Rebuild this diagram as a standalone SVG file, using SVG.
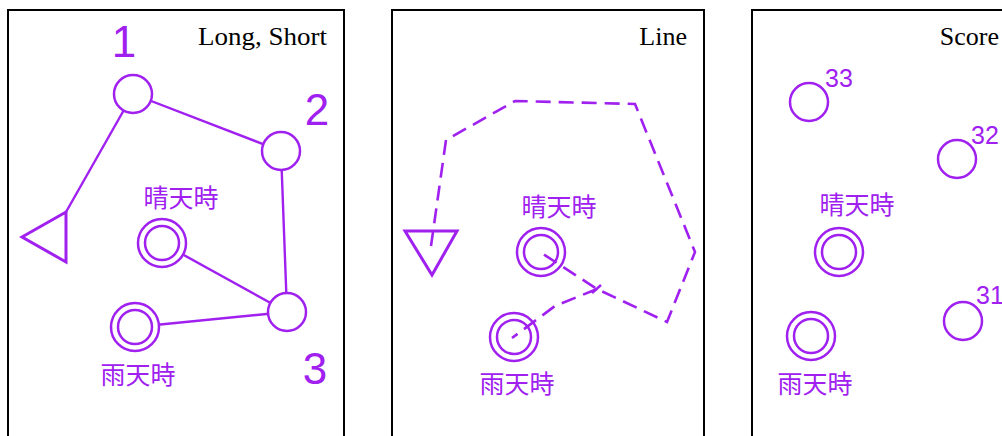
<svg xmlns="http://www.w3.org/2000/svg" width="1002" height="436" viewBox="0 0 1002 436">
<style>
.panel{fill:#fff;stroke:#000;stroke-width:2}
.title{font-family:"Liberation Serif",serif;font-size:26px;fill:#000;text-anchor:end}
.node{fill:#fff;stroke:#A020F0;stroke-width:2.5}
.ring{fill:none;stroke:#A020F0;stroke-width:2.5}
.tri{fill:none;stroke:#A020F0;stroke-width:3;stroke-linejoin:miter}
.conn{fill:none;stroke:#A020F0;stroke-width:2.4}
.dash{fill:none;stroke:#A020F0;stroke-width:2.6;stroke-dasharray:15 8}
.num{font-family:"Liberation Sans",Arial,sans-serif;font-size:44px;fill:#A020F0;text-anchor:middle}
.score{font-family:"Liberation Sans",Arial,sans-serif;font-size:25px;fill:#A020F0}
.jp{font-family:"Noto Sans CJK JP","Noto Sans CJK SC",sans-serif;font-size:25px;fill:#A020F0;text-anchor:middle}
</style>
<rect width="1002" height="436" fill="#fff"/>
<!-- panels -->
<rect class="panel" x="8" y="10" width="336" height="440"/>
<rect class="panel" x="392" y="10" width="312" height="440"/>
<rect class="panel" x="752" y="10" width="300" height="440"/>
<text class="title" x="327" y="45" textLength="129" lengthAdjust="spacingAndGlyphs">Long, Short</text>
<text class="title" x="687" y="45">Line</text>
<text class="title" x="999" y="45">Score</text>

<!-- connectors -->
<g id="connectors">
  <line class="conn" x1="133" y1="94" x2="66" y2="212"/>
  <line class="conn" x1="133" y1="94" x2="281" y2="151"/>
  <line class="conn" x1="281" y1="151" x2="287" y2="312"/>
  <line class="conn" x1="162" y1="243" x2="287" y2="312"/>
  <line class="conn" x1="135" y1="327" x2="287" y2="312"/>
  <polyline class="dash" points="431,246 446,140 515,101 635,104 695,252 667,322 597,289 540,252"/>
  <polyline class="dash" points="597,289 555,306 512,338"/>
  <line class="conn" x1="592" y1="293" x2="601" y2="285"/>
</g>

<!-- panel 1 nodes -->
<g id="p1-start"><polygon class="tri" points="22,237 66,212 66,262"/></g>
<g id="p1-node1"><circle class="node" cx="133" cy="94" r="19"/><text class="num" x="124" y="57">1</text></g>
<g id="p1-node2"><circle class="node" cx="281" cy="151" r="19"/><text class="num" x="317" y="125">2</text></g>
<g id="p1-node3"><circle class="node" cx="287" cy="312" r="19"/><text class="num" x="315" y="384">3</text></g>
<g id="p1-sunny"><circle class="node" cx="162" cy="243" r="24"/><circle class="ring" cx="162" cy="243" r="17"/><text class="jp" x="181" y="207">晴天時</text></g>
<g id="p1-rainy"><circle class="node" cx="135" cy="327" r="24"/><circle class="ring" cx="135" cy="327" r="17"/><text class="jp" x="138" y="384">雨天時</text></g>

<!-- panel 2 nodes -->
<g id="p2-start"><polygon class="tri" points="405,231 457,231 432,275"/></g>
<g id="p2-sunny"><circle class="ring" cx="541" cy="252" r="24"/><circle class="ring" cx="541" cy="252" r="17"/><text class="jp" x="559" y="216">晴天時</text></g>
<g id="p2-rainy"><circle class="ring" cx="514" cy="337" r="24"/><circle class="ring" cx="514" cy="337" r="17"/><text class="jp" x="517" y="393">雨天時</text></g>

<!-- panel 3 nodes -->
<g id="p3-n33"><circle class="node" cx="809" cy="102" r="19"/><text class="score" x="825" y="87">33</text></g>
<g id="p3-n32"><circle class="node" cx="957" cy="159" r="19"/><text class="score" x="971" y="144">32</text></g>
<g id="p3-n31"><circle class="node" cx="963" cy="321" r="19"/><text class="score" x="976" y="304">31</text></g>
<g id="p3-sunny"><circle class="node" cx="839" cy="252" r="24"/><circle class="ring" cx="839" cy="252" r="17"/><text class="jp" x="857" y="214">晴天時</text></g>
<g id="p3-rainy"><circle class="node" cx="811" cy="336" r="24"/><circle class="ring" cx="811" cy="336" r="17"/><text class="jp" x="815" y="393">雨天時</text></g>
</svg>
